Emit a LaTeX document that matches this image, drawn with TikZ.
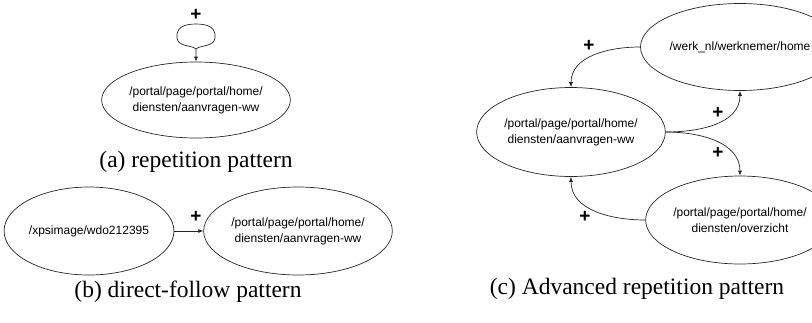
\documentclass[tikz,border=0pt]{standalone}
\usepackage{fontspec}
\setmainfont{Liberation Serif}
\newfontfamily\arialf{Liberation Sans}
\usetikzlibrary{shapes.geometric,arrows.meta}
\begin{document}
\begin{tikzpicture}[x=1pt,y=1pt,
  ell/.style={draw=black!85, ellipse, inner sep=0pt, line width=0.7pt, align=center,
    font=\arialf\fontsize{12}{16}\selectfont},
  arr/.style={-{Latex[length=5pt,width=4pt]}, line width=0.7pt, draw=black!85},
  plus/.style={font=\arialf\bfseries\fontsize{19}{19}\selectfont, inner sep=0pt},
  captxt/.style={font=\fontsize{23.5}{28}\selectfont, inner sep=0pt}]
\useasboundingbox (0,0) rectangle (812,-322);
% (a)
\node[ell, minimum width=138pt, minimum height=76pt] (A) at (196,-100)
  {/portal/page/portal/home/\\diensten/aanvragen-ww};
\coordinate (J) at (196,-49);
\draw[arr] (J) .. controls (192,-45) and (178,-47) .. (177,-38)
  .. controls (176,-28) and (183,-24) .. (196,-24)
  .. controls (209,-24) and (216,-28) .. (215,-38)
  .. controls (214,-47) and (200,-45) .. (J) -- (A.north);
\node[plus] (pa) at (196,-15) {+};
\node[captxt] (capa) at (196,-162) {(a) repetition pattern};
% (b)
\node[ell, minimum width=160pt, minimum height=88pt] (B1) at (89,-231) {/xpsimage/wdo212395};
\node[ell, minimum width=152pt, minimum height=88pt] (B2) at (298,-231)
  {/portal/page/portal/home/\\diensten/aanvragen-ww};
\draw[arr] (B1) -- (B2);
\node[plus] (pb) at (196,-217) {+};
\node[captxt] (capb) at (188,-292) {(b) direct-follow pattern};
% (c)
\node[ell, minimum width=146pt, minimum height=87pt] (TR) at (740,-47) {/werk\_nl/werknemer/home};
\node[ell, minimum width=152pt, minimum height=89pt] (ML) at (571,-132)
  {/portal/page/portal/home/\\diensten/aanvragen-ww};
\node[ell, minimum width=148pt, minimum height=88pt] (BR) at (740,-220)
  {/portal/page/portal/home/\\diensten/overzicht};
\draw[arr] (TR.west) to[out=180,in=90] (ML.north);
\draw[arr] (ML.east) to[out=0,in=-90] (TR.south);
\draw[arr] (ML.east) to[out=0,in=90] (BR.north);
\draw[arr] (BR.west) to[out=180,in=-90] (ML.south);
\node[plus] (p1) at (589,-46) {+};
\node[plus] (p2) at (718,-113) {+};
\node[plus] (p3) at (718,-153) {+};
\node[plus] (p4) at (585,-217) {+};
\node[captxt] (capc) at (637,-289) {(c) Advanced repetition pattern};
\end{tikzpicture}
\end{document}
